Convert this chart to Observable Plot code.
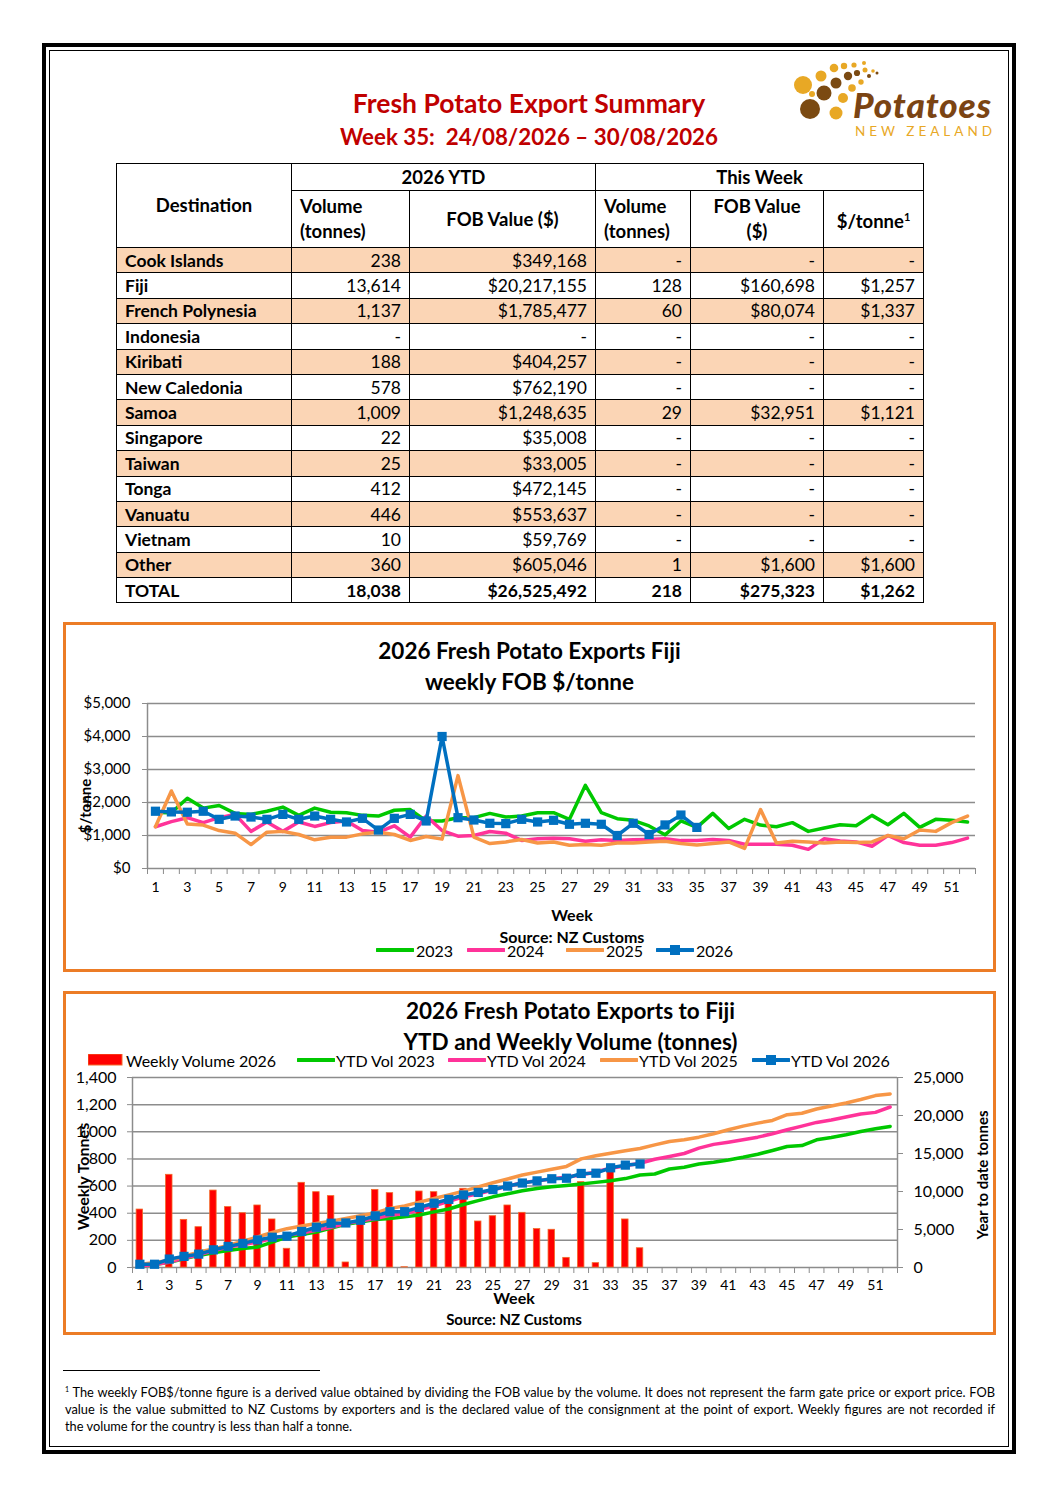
<!DOCTYPE html>
<html><head><meta charset="utf-8">
<script src="https://cdn.jsdelivr.net/npm/d3@7"></script>
<script src="https://cdn.jsdelivr.net/npm/@observablehq/plot@0.6"></script>
<style>
body{margin:0;background:#fff;font-family:Lato,"Open Sans",sans-serif;color:#000;}
#page{position:relative;width:1058px;height:1497px;overflow:hidden;}
.abs{position:absolute;}
.outer{left:42px;top:43px;width:966px;height:1403px;border:4px solid #000;}
.inner{left:49px;top:50px;width:958px;height:1395px;border:1px solid #000;}
.title{left:0;width:1058px;text-align:center;color:#c00000;font-weight:700;}
table{border-collapse:collapse;font-size:17.5px;}
td,th{border:1px solid #000;padding:0 8px;white-space:nowrap;}
th{font-weight:700;font-size:18.5px;line-height:25px;}
td.n{text-align:right;}
td.name{font-weight:700;text-align:left;}
tr.alt td{background:#fbd5b5;}
.panel{border:3px solid #ec7c26;}
.ctitle{text-align:center;font-weight:700;font-size:22.5px;line-height:31px;}
.lbl{font-weight:700;font-size:16px;text-align:center;}
.rot{transform:rotate(-90deg);transform-origin:center center;white-space:nowrap;font-weight:700;}
.leg{font-size:16px;white-space:nowrap;display:flex;align-items:center;}
.foot{left:65px;width:930px;font-size:12.8px;line-height:17px;font-family:Lato,sans-serif;}
.foot div{text-align:justify;text-align-last:justify;white-space:nowrap;}
.foot div.last{text-align-last:left;}
</style></head>
<body><div id="page">
<div class="abs outer"></div>
<div class="abs inner"></div>
<div class="abs title" style="top:87px;font-size:26.5px;">Fresh Potato Export Summary</div>
<div class="abs title" style="top:123px;font-size:22.3px;">Week 35:&nbsp; 24/08/2026 – 30/08/2026</div>
<svg class="abs" style="left:785px;top:56px" width="225" height="92" id="logo"></svg>
<div class="abs" id="tbl" style="left:116px;top:163px;"></div>

<div class="abs panel" style="left:63px;top:622px;width:927px;height:344px;"></div>
<div class="abs ctitle" style="left:63px;top:635px;width:933px;">2026 Fresh Potato Exports Fiji<br>weekly FOB $/tonne</div>
<div class="abs" id="chart1" style="left:65px;top:685px;"></div>
<div class="abs rot" style="left:45px;top:797px;width:80px;text-align:center;font-size:15px;">$/tonne</div>
<div class="abs lbl" style="left:472px;top:905px;width:200px;">Week</div>
<div class="abs lbl" style="left:472px;top:927px;width:200px;">Source: NZ Customs</div>
<div class="abs" id="leg1" style="left:0;top:940px;"></div>

<div class="abs panel" style="left:63px;top:991px;width:927px;height:338px;"></div>
<div class="abs ctitle" style="left:104px;top:995px;width:933px;">2026 Fresh Potato Exports to Fiji<br>YTD and Weekly Volume (tonnes)</div>
<div class="abs" id="chart2" style="left:65px;top:1060px;"></div>
<div class="abs rot" style="left:22px;top:1167px;width:120px;text-align:center;font-size:16px;">Weekly Tonnes</div>
<div class="abs rot" style="left:907px;top:1166px;width:150px;text-align:center;font-size:15px;">Year to date tonnes</div>
<div class="abs lbl" style="left:414px;top:1288px;width:200px;">Week</div>
<div class="abs lbl" style="left:414px;top:1310px;width:200px;font-size:15px;">Source: NZ Customs</div>
<div class="abs" id="leg2" style="left:0;top:1050px;"></div>

<div class="abs" style="left:63px;top:1370px;width:257px;height:0;border-top:1px solid #000;"></div>
<div class="abs foot" style="top:1381px;">
<div><sup style="font-size:7px">1</sup> The weekly FOB$/tonne figure is a derived value obtained by dividing the FOB value by the volume. It does not represent the farm gate price or export price. FOB</div>
<div>value is the value submitted to NZ Customs by exporters and is the declared value of the consignment at the point of export. Weekly figures are not recorded if</div>
<div class="last">the volume for the country is less than half a tonne.</div>
</div>
</div>
<script>
// ---------- table data ----------
const destinations = ["Cook Islands","Fiji","French Polynesia","Indonesia","Kiribati","New Caledonia","Samoa","Singapore","Taiwan","Tonga","Vanuatu","Vietnam","Other"];
const ytdVolume = ["238","13,614","1,137","-","188","578","1,009","22","25","412","446","10","360"];
const ytdFob = ["$349,168","$20,217,155","$1,785,477","-","$404,257","$762,190","$1,248,635","$35,008","$33,005","$472,145","$553,637","$59,769","$605,046"];
const weekVolume = ["-","128","60","-","-","-","29","-","-","-","-","-","1"];
const weekFob = ["-","$160,698","$80,074","-","-","-","$32,951","-","-","-","-","-","$1,600"];
const weekPerTonne = ["-","$1,257","$1,337","-","-","-","$1,121","-","-","-","-","-","$1,600"];
const totalRow = ["TOTAL","18,038","$26,525,492","218","$275,323","$1,262"];

// ---------- chart 1: weekly FOB $/tonne ----------
const fob2023 = [1700,1690,2130,1830,1910,1670,1640,1735,1860,1610,1830,1705,1690,1610,1590,1765,1785,1440,1440,1540,1540,1670,1560,1590,1690,1690,1490,2520,1690,1510,1460,1290,1020,1440,1245,1670,1215,1490,1315,1265,1390,1125,1225,1325,1295,1610,1325,1670,1245,1490,1460,1410];
const fob2024 = [1265,1420,1540,1390,1540,1640,1125,1410,1125,1410,1275,1390,1440,1150,1100,1295,950,1590,1150,980,1000,1120,1070,850,900,920,900,825,870,850,870,880,900,845,850,880,850,735,735,735,705,580,900,835,805,675,1000,785,705,705,785,920];
const fob2025 = [1265,2350,1345,1315,1150,1070,725,1100,1125,1030,870,950,950,1050,1100,1030,850,970,890,2815,950,755,805,880,775,805,705,725,705,775,775,805,825,755,715,755,805,610,1785,775,825,805,775,805,785,805,1000,900,1165,1125,1390,1590];
const fob2026 = [1735,1715,1705,1735,1490,1590,1560,1490,1640,1490,1590,1490,1410,1520,1165,1520,1640,1440,4000,1540,1470,1370,1360,1490,1410,1460,1340,1370,1340,1000,1370,1030,1320,1620,1245];

// ---------- chart 2: weekly volume & YTD ----------
const weeklyVolume2026 = [427,0,683,351,297,567,445,400,457,354,138,624,555,526,37,360,572,548,2,560,555,500,580,339,378,457,403,283,278,71,629,32,710,354,142];
const ytd2023 = [180,400,700,1150,1590,1950,2250,2500,2690,3350,4010,4350,4670,5200,5690,6000,6300,6440,6660,6900,7320,7700,8290,8800,9300,9700,10100,10400,10630,10800,10980,11200,11420,11700,12170,12300,12960,13200,13620,13850,14150,14500,14900,15400,15920,16050,16800,17100,17460,17900,18250,18560];
const ytd2024 = [180,400,700,1200,1675,2200,2690,3000,3350,3800,4230,4550,4890,5300,5780,6100,6440,6880,7100,7600,8110,8700,9300,9700,10185,10700,11155,11400,11640,11900,12170,12600,13050,13400,13710,14240,14600,15000,15700,16200,16490,16800,17150,17600,18120,18600,19090,19400,19800,20200,20410,21120];
const ytd2025 = [400,650,925,1500,2030,2450,2910,3450,4010,4600,5110,5450,5780,6100,6440,6800,7190,7760,8110,8600,9080,9550,10050,10600,11155,11650,12170,12550,12920,13300,14290,14700,15035,15350,15650,16140,16580,16800,17150,17600,18120,18600,19000,19350,20100,20300,20855,21250,21650,22100,22620,22840];
const ytd2026 = [427,427,1110,1461,1758,2325,2770,3170,3627,3981,4119,4743,5298,5824,5861,6221,6793,7341,7343,7903,8458,8958,9538,9877,10255,10712,11115,11398,11676,11747,12376,12408,13118,13472,13614];

const yearNames = ["2023","2024","2025","2026"];
const yearColors = ["#00c800","#ff3399","#f79646","#0070c0"];
const ytdNames = ["YTD Vol 2023","YTD Vol 2024","YTD Vol 2025","YTD Vol 2026"];
const barColor = "#ff0000";
const gridColor = "#8c8c8c";

// ---------- table ----------
(function(){
  const w=[175,118,186,95,133,100];
  let h = `<table style="width:807px;table-layout:fixed;"><colgroup>${w.map(x=>`<col style="width:${x}px">`).join("")}</colgroup>`;
  h += `<tr style="height:27px"><th rowspan="2">Destination</th><th colspan="2">2026 YTD</th><th colspan="3">This Week</th></tr>`;
  h += `<tr style="height:57px"><th style="text-align:left">Volume<br>(tonnes)</th><th>FOB Value ($)</th><th style="text-align:left">Volume<br>(tonnes)</th><th>FOB Value<br>($)</th><th>$/tonne<sup style="font-size:11px">1</sup></th></tr>`;
  destinations.forEach((d,i)=>{
    h += `<tr class="${i%2===0?'alt':''}" style="height:25.4px"><td class="name">${d}</td><td class="n">${ytdVolume[i]}</td><td class="n">${ytdFob[i]}</td><td class="n">${weekVolume[i]}</td><td class="n">${weekFob[i]}</td><td class="n">${weekPerTonne[i]}</td></tr>`;
  });
  h += `<tr style="height:25.4px"><td class="name">${totalRow[0]}</td>${totalRow.slice(1).map(v=>`<td class="n" style="font-weight:700">${v}</td>`).join("")}</tr></table>`;
  document.getElementById("tbl").innerHTML = h;
})();

// ---------- logo ----------
(function(){
  const s = d3.select("#logo");
  const circles = [
    [18,29,9,"#e8a825"],[39,37,7.5,"#7b4a12"],[25,53,10,"#7b4a12"],[51,57,6.5,"#e8a825"],
    [36,20,5.5,"#e8a825"],[51,27,5.5,"#7b4a12"],[58,42,5,"#e8a825"],[63,20,4.2,"#7b4a12"],
    [49,12,4.3,"#e8a825"],[67,32,3.8,"#e8a825"],[72,17,3.1,"#7b4a12"],[59,10,3.2,"#e8a825"],
    [76,26,2.7,"#e8a825"],[80,14,2.5,"#e8a825"],[84,20,2,"#7b4a12"],[69,9,2.6,"#e8a825"],
    [88,15,1.8,"#e8a825"],[92,17,1.5,"#7b4a12"],[79,7,2,"#e8a825"],[27,38,3,"#e8a825"]
  ];
  s.selectAll("circle").data(circles).join("circle").attr("cx",d=>d[0]).attr("cy",d=>d[1]).attr("r",d=>d[2]).attr("fill",d=>d[3]);
  s.append("text").attr("x",68).attr("y",62).attr("fill","#7b4413").attr("font-size",35).attr("font-weight",900).attr("font-style","italic").attr("font-family","Lato, sans-serif").attr("textLength",138).text("Potatoes");
  s.append("text").attr("x",70).attr("y",80).attr("fill","#e8a825").attr("font-size",13.5).attr("font-family","Lato, sans-serif").attr("textLength",137).text("NEW ZEALAND");
})();

// ---------- chart 1 ----------
const fobSeries = [fob2023,fob2024,fob2025,fob2026];
const fobRows = fobSeries.flatMap((arr,k)=>arr.map((v,i)=>({week:i+1,value:v,series:yearNames[k]})));
const fobRows2026 = fobRows.filter(d=>d.series==="2026");
const oddWeeks = d3.range(1,53,2);
const bounds = d3.range(0.5,53,1);

const chart1 = Plot.plot({
  width: 928, height: 240,
  marginLeft: 82, marginRight: 18, marginTop: 18, marginBottom: 57,
  style: {fontFamily:"Lato, sans-serif", color:"#000", background:"transparent"},
  x: {domain:[0.5,52.5], axis:null},
  y: {domain:[0,5000], axis:null},
  color: {domain: yearNames, range: yearColors},
  marks: [
    Plot.gridY([1000,2000,3000,4000,5000], {stroke:gridColor, strokeOpacity:1, strokeWidth:1.5}),
    Plot.ruleY([0], {stroke:gridColor, strokeWidth:1.5}),
    Plot.ruleX([0.5], {stroke:gridColor, strokeWidth:1.5}),
    Plot.axisY({ticks:[0,1000,2000,3000,4000,5000], tickFormat:d=>"$"+d3.format(",")(d), tickSize:5, tickPadding:12, stroke:gridColor, fontSize:15, fill:"#000", label:null}),
    Plot.axisX({ticks:bounds, tickFormat:()=>"", tickSize:6, stroke:gridColor, label:null}),
    Plot.axisX({ticks:oddWeeks, tickFormat:d=>String(d), tickSize:0, tickPadding:14, fontSize:14, fill:"#000", label:null}),
    Plot.line(fobRows, {x:"week", y:"value", z:"series", stroke:"series", strokeWidth:3.5, strokeLinejoin:"round"}),
    Plot.dot(fobRows2026, {x:"week", y:"value", symbol:"square", r:5.2, fill:"series", stroke:null})
  ]
});
document.getElementById("chart1").append(chart1);

// ---------- chart 2 ----------
const scaleRight = 1400/25000;
const barRows = weeklyVolume2026.map((v,i)=>({week:i+1,value:v}));
const ytdSeries = [ytd2023,ytd2024,ytd2025,ytd2026];
const ytdRows = ytdSeries.flatMap((arr,k)=>arr.map((v,i)=>({week:i+1,value:v,series:ytdNames[k]})));
const ytdRows2026 = ytdRows.filter(d=>d.series==="YTD Vol 2026");
const rightTicks = [0,5000,10000,15000,20000,25000];

const chart2 = Plot.plot({
  width: 928, height: 250,
  marginLeft: 67, marginRight: 96, marginTop: 17, marginBottom: 43,
  style: {fontFamily:"Lato, sans-serif", color:"#000", background:"transparent"},
  x: {domain:[0.5,52.5], axis:null},
  y: {domain:[0,1400], axis:null},
  color: {domain: ytdNames, range: yearColors},
  marks: [
    Plot.gridY(d3.range(200,1401,200), {stroke:gridColor, strokeOpacity:1, strokeWidth:1.5}),
    Plot.ruleY([0], {stroke:gridColor, strokeWidth:1.5}),
    Plot.ruleX([0.5, 52.5], {stroke:gridColor, strokeWidth:1.5}),
    Plot.axisY({ticks:d3.range(0,1401,200), tickFormat:d3.format(","), tickSize:5, tickPadding:11, stroke:gridColor, fontSize:16, fill:"#000", label:null}),
    Plot.axisY({anchor:"right", ticks:rightTicks.map(v=>v*scaleRight), tickFormat:d=>d3.format(",")(Math.round(d/scaleRight)), tickSize:5, tickPadding:11, stroke:gridColor, fontSize:16, fill:"#000", label:null}),
    Plot.axisX({ticks:bounds, tickFormat:()=>"", tickSize:6, stroke:gridColor, label:null}),
    Plot.axisX({ticks:oddWeeks, tickFormat:d=>String(d), tickSize:0, tickPadding:13, fontSize:14, fill:"#000", label:null}),
    Plot.rectY(barRows, {x1:d=>d.week-0.22, x2:d=>d.week+0.22, y1:0, y2:"value", fill:barColor, stroke:"#f26b2a", strokeWidth:0.8}),
    Plot.line(ytdRows, {x:"week", y:d=>d.value*scaleRight, z:"series", stroke:"series", strokeWidth:3.5, strokeLinejoin:"round"}),
    Plot.dot(ytdRows2026, {x:"week", y:d=>d.value*scaleRight, symbol:"square", r:5.2, fill:"series", stroke:null})
  ]
});
document.getElementById("chart2").append(chart2);

// ---------- legends ----------
function swatchLine(color, marker){
  return `<svg width="38" height="12" style="display:block"><line x1="1" y1="6" x2="37" y2="6" stroke="${color}" stroke-width="4" stroke-linecap="round"/>${marker?`<rect x="14" y="1" width="10" height="10" fill="${color}"/>`:""}</svg>`;
}
(function(){
  const pos = [376,467,566,656];
  const el = document.getElementById("leg1");
  yearNames.forEach((n,i)=>{
    const d = document.createElement("div");
    d.className="abs leg"; d.style.left=pos[i]+"px"; d.style.top="0px"; d.style.height="20px";
    d.innerHTML = swatchLine(yearColors[i], i===3) + `<span style="margin-left:2px">${n}</span>`;
    el.append(d);
  });
  const el2 = document.getElementById("leg2");
  const b = document.createElement("div");
  b.className="abs leg"; b.style.left="88px"; b.style.top="0px"; b.style.height="20px";
  b.innerHTML = `<svg width="36" height="12" style="display:block"><rect x="0" y="0" width="34" height="11" fill="${barColor}" stroke="#f26b2a"/></svg><span style="margin-left:2px">Weekly Volume 2026</span>`;
  el2.append(b);
  const pos2 = [297,448,600,752];
  ytdNames.forEach((n,i)=>{
    const d = document.createElement("div");
    d.className="abs leg"; d.style.left=pos2[i]+"px"; d.style.top="0px"; d.style.height="20px";
    d.innerHTML = swatchLine(yearColors[i], i===3) + `<span style="margin-left:1px">${n}</span>`;
    el2.append(d);
  });
})();
</script>
</body></html>
